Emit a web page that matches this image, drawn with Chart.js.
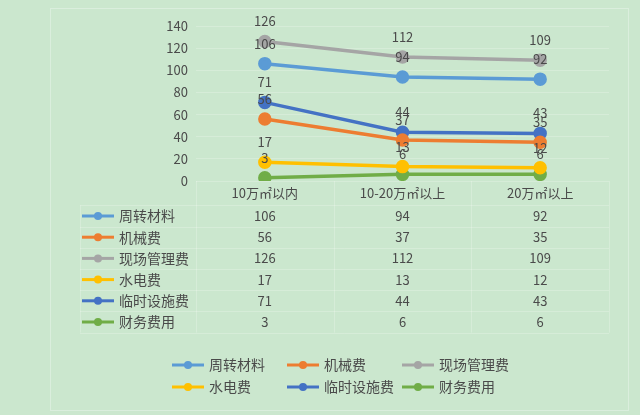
<!DOCTYPE html>
<html>
<head>
<meta charset="utf-8">
<script src="https://cdn.jsdelivr.net/npm/chart.js@4.4.1/dist/chart.umd.min.js"></script>
<style>
  html, body { margin: 0; padding: 0; background: #cbe7ce; }
  #wrap { width: 640px; height: 415px; position: relative; }
</style>
</head>
<body>
<div id="wrap"><canvas id="costChart" width="640" height="415"></canvas></div>
<script>
// categories and series
const categories = ['10万㎡以内', '10-20万㎡以上', '20万㎡以上'];
const seriesNames = ['周转材料', '机械费', '现场管理费', '水电费', '临时设施费', '财务费用'];
const zhouzhuan = [106, 94, 92];
const jixie = [56, 37, 35];
const xianchang = [126, 112, 109];
const shuidian = [17, 13, 12];
const linshi = [71, 44, 43];
const caiwu = [3, 6, 6];
const yTicks = [0, 20, 40, 60, 80, 100, 120, 140];
const seriesColors = ['#5b9bd5', '#ed7d31', '#a5a5a5', '#ffc000', '#4472c4', '#70ad47'];

const allSeries = [zhouzhuan, jixie, xianchang, shuidian, linshi, caiwu];
const FONT = '"Noto Sans CJK SC", "Noto Sans", sans-serif';
const TEXT = '#4a4a4a';
const LINE = 'rgba(255,255,255,0.22)';

// background + outer frame
const framePlugin = {
    id: 'frame',
    beforeDraw(chart) {
        const ctx = chart.ctx;
        ctx.save();
        ctx.fillStyle = '#cbe7ce';
        ctx.fillRect(0, 0, chart.width, chart.height);
        ctx.strokeStyle = 'rgba(255,255,255,0.3)';
        ctx.lineWidth = 1;
        ctx.strokeRect(50.5, 8.5, 578, 402);
        ctx.restore();
    }
};

// value labels above each point
const valueLabels = {
    id: 'valueLabels',
    afterDatasetsDraw(chart) {
        const ctx = chart.ctx;
        ctx.save();
        ctx.font = '13px ' + FONT;
        ctx.fillStyle = TEXT;
        ctx.textAlign = 'center';
        ctx.textBaseline = 'middle';
        chart.data.datasets.forEach((ds, i) => {
            chart.getDatasetMeta(i).data.forEach((pt, j) => {
                ctx.fillText(ds.data[j], pt.x, pt.y - 20);
            });
        });
        ctx.restore();
    }
};

// category header, data table + legend under the plot
const tableAndLegend = {
    id: 'tableAndLegend',
    afterDraw(chart) {
        const ctx = chart.ctx;
        const x = chart.scales.x;
        const area = chart.chartArea;
        const rowH = 21.2;
        const firstRow = 216;
        const tableLeft = 80;
        const top = area.bottom;
        const bottom = firstRow + rowH * 5.5;
        const colW = (area.right - area.left) / categories.length;

        ctx.save();
        // borders
        ctx.strokeStyle = LINE;
        ctx.lineWidth = 1;
        ctx.beginPath();
        for (let c = 0; c <= categories.length; c++) {
            const vx = Math.round(area.left + c * colW) + 0.5;
            ctx.moveTo(vx, top);
            ctx.lineTo(vx, bottom);
        }
        for (let r = 0; r <= seriesNames.length; r++) {
            const hy = Math.round(firstRow - rowH / 2 + r * rowH) + 0.5;
            ctx.moveTo(tableLeft, hy);
            ctx.lineTo(area.right, hy);
        }
        ctx.moveTo(tableLeft + 0.5, firstRow - rowH / 2);
        ctx.lineTo(tableLeft + 0.5, bottom);
        ctx.stroke();

        // category header
        ctx.fillStyle = TEXT;
        ctx.font = '13px ' + FONT;
        ctx.textAlign = 'center';
        ctx.textBaseline = 'middle';
        categories.forEach((c, j) => ctx.fillText(c, x.getPixelForValue(j), 193));

        // rows
        seriesNames.forEach((name, i) => {
            const cy = firstRow + i * rowH;
            drawKey(ctx, 82, cy, seriesColors[i]);
            ctx.fillStyle = TEXT;
            ctx.font = '14px ' + FONT;
            ctx.textAlign = 'left';
            ctx.textBaseline = 'middle';
            ctx.fillText(name, 119, cy);
            ctx.font = '13px ' + FONT;
            ctx.textAlign = 'center';
            allSeries[i].forEach((v, j) => {
                ctx.fillText(v, x.getPixelForValue(j), cy);
            });
        });

        // legend
        const legendX = [172, 287, 402];
        const legendY = [365, 387];
        seriesNames.forEach((name, i) => {
            const lx = legendX[i % 3];
            const ly = legendY[Math.floor(i / 3)];
            drawKey(ctx, lx, ly, seriesColors[i]);
            ctx.fillStyle = TEXT;
            ctx.font = '14px ' + FONT;
            ctx.textAlign = 'left';
            ctx.textBaseline = 'middle';
            ctx.fillText(name, lx + 37, ly);
        });
        ctx.restore();
    }
};

function drawKey(ctx, x0, y, color) {
    ctx.strokeStyle = color;
    ctx.lineWidth = 3;
    ctx.beginPath();
    ctx.moveTo(x0, y);
    ctx.lineTo(x0 + 32, y);
    ctx.stroke();
    ctx.fillStyle = color;
    ctx.beginPath();
    ctx.arc(x0 + 16, y, 4, 0, Math.PI * 2);
    ctx.fill();
}

new Chart(document.getElementById('costChart'), {
    type: 'line',
    data: {
        labels: categories,
        datasets: seriesNames.map((name, i) => ({
            label: name,
            data: allSeries[i],
            borderColor: seriesColors[i],
            backgroundColor: seriesColors[i],
            borderWidth: 3.5,
            pointRadius: 5,
            pointHoverRadius: 5,
            tension: 0
        }))
    },
    options: {
        responsive: false,
        animation: false,
        events: [],
        layout: { padding: { left: 0, right: 31, top: 26, bottom: 212 } },
        plugins: {
            legend: { display: false },
            tooltip: { enabled: false }
        },
        scales: {
            x: {
                offset: true,
                grid: { display: false },
                border: { display: false },
                ticks: { display: false },
                afterFit(scale) { scale.height = 22; }
            },
            y: {
                min: 0,
                max: 140,
                afterBuildTicks(scale) { scale.ticks = yTicks.map(v => ({ value: v })); },
                grid: { color: LINE, drawTicks: false },
                border: { display: false },
                ticks: { color: TEXT, font: { family: FONT, size: 13 }, padding: 8 },
                afterFit(scale) { scale.width = 196; }
            }
        }
    },
    plugins: [framePlugin, valueLabels, tableAndLegend]
});
</script>
</body>
</html>
